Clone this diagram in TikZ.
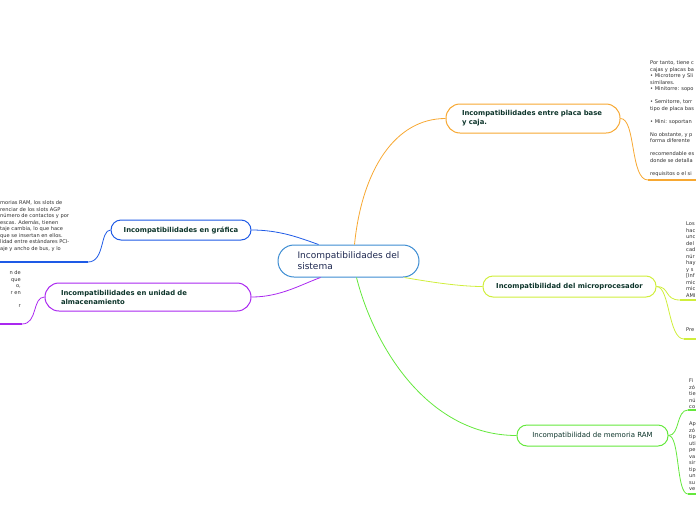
\documentclass[tikz,border=0pt]{standalone}
\usepackage{fontspec}
\setmainfont{DejaVu Sans}
\definecolor{hubblue}{RGB}{60,140,210}
\definecolor{hubtext}{RGB}{30,40,80}
\definecolor{labelgreen}{RGB}{12,52,42}
\definecolor{notegray}{RGB}{45,45,45}
\definecolor{caseorange}{RGB}{247,168,50}
\definecolor{cpulime}{RGB}{208,238,60}
\definecolor{ramgreen}{RGB}{100,232,60}
\definecolor{gpublue}{RGB}{30,90,230}
\definecolor{diskpurple}{RGB}{170,40,240}

\begin{document}
\begin{tikzpicture}[x=1pt, y=-1pt,
    topic/.style={draw, fill=white, line width=1pt, text=labelgreen, font=\fontsize{6.85}{9}\selectfont\bfseries},
    note/.style={inner sep=0pt, align=left, text=notegray, font=\fontsize{5.1}{6.5}\selectfont},
    link/.style={line width=0.8pt},
    bar/.style={line width=1.6pt}
]
\useasboundingbox (0,0) rectangle (696,520);

% centre and branches
\node[draw=hubblue, fill=white, line width=1pt, rounded corners=16pt, minimum width=141pt, minimum height=32pt,
      align=left, text=hubtext, font=\fontsize{9}{11}\selectfont] (centre) at (348.5,261) {Incompatibilidades del\\sistema};
\node[topic, draw=caseorange, rounded corners=14pt, minimum width=174pt, minimum height=29pt,
      text width=142pt, align=left, inner xsep=16pt] (caja) at (533,118.5) {Incompatibilidades entre placa base\\y caja.};
\node[topic, draw=cpulime, rounded corners=10pt, minimum width=173pt, minimum height=21pt] (micro) at (569.5,286.5) {Incompatibilidad del microprocesador};
\node[topic, draw=ramgreen, rounded corners=10pt, minimum width=151pt, minimum height=21pt,
      font=\fontsize{7}{9}\selectfont] (ram) at (592.5,435.5) {Incompatibilidad de memoria RAM};
\node[topic, draw=gpublue, rounded corners=10pt, minimum width=140pt, minimum height=20pt] (grafica) at (181,230) {Incompatibilidades en gráfica};
\node[topic, draw=diskpurple, rounded corners=14pt, minimum width=206pt, minimum height=28pt,
      text width=174pt, align=left, inner xsep=16pt] (disco) at (148,297) {Incompatibilidades en unidad de\\almacenamiento};

% notes (cut by the page edge)
\node[note, anchor=north west] (cajatxt) at (650,60.8) {Por tanto, tiene c\\cajas y placas ba\\• Microtorre y Sli\\similares.\\• Minitorre: sopo\\[6.5pt]• Semitorre, torr\\tipo de placa bas\\[6.5pt]• Mini: soportan\\[6.5pt]No obstante, y p\\forma diferente\\[6.5pt]recomendable es\\donde se detalla\\[6.5pt]requisitos o el si};
\node[note, anchor=north west] (microtxt) at (686,221.8) {Los\\hac\\unc\\del\\cad\\núr\\hay\\y s\\{}[Inf\\mic\\mic\\AMI};
\node[note, anchor=north west] (pretxt) at (686,327.8) {Pre};
\node[note, anchor=north west] (ramtxta) at (689,378.8) {Fi\\zó\\tie\\nú\\co};
\node[note, anchor=north west] (ramtxtb) at (689,421.8) {Ap\\zó\\tip\\uti\\pe\\va\\sir\\tip\\un\\su\\ve};
\node[note, anchor=north west] (graficatxt) at (0,200.8) {morias RAM, los slots de\\renciar de los slots AGP\\número de contactos y por\\escas. Además, tienen\\taje cambia, lo que hace\\que se insertan en ellos.\\lidad entre estándares PCI-\\aje y ancho de bus, y lo};
\node[note, anchor=north east, align=right] (discotxt) at (21,270.8) {n de\\que\\o,\\r en\\[6.5pt]r};

\coordinate (cajaend) at (648,180);
\coordinate (microenda) at (680,300);
\coordinate (microendb) at (684,339);
\coordinate (ramenda) at (688,410);
\coordinate (ramendb) at (688,494);
\coordinate (graficaend) at (88,262);
\coordinate (discoend) at (22,324);

% centre to branches
\draw[link, caseorange] ([xshift=6pt]centre.north) .. controls (362,170) and (395,118.5) .. (caja.west);
\draw[link, cpulime] ([xshift=56pt]centre.south) .. controls (430,282) and (460,286.5) .. (micro.west);
\draw[link, ramgreen] ([xshift=8pt]centre.south) .. controls (375,350) and (430,435.5) .. (ram.west);
\draw[link, gpublue] ([xshift=-30pt]centre.north) .. controls (300,238) and (280,230) .. (grafica.east);
\draw[link, diskpurple] ([xshift=-28pt]centre.south) .. controls (300,285) and (280,297) .. (disco.east);

% branches to notes
\draw[link, caseorange] (caja.east) .. controls (636,118.5) and (630,180) .. (cajaend);
\draw[bar, caseorange] (cajaend) -- (696,180);
\draw[link, cpulime] (micro.east) .. controls (670,286.5) and (664,300) .. (microenda);
\draw[link, cpulime] (micro.east) .. controls (670,286.5) and (668,339) .. (microendb);
\draw[bar, cpulime] (microenda) -- (696,300);
\draw[bar, cpulime] (microendb) -- (696,339);
\draw[link, ramgreen] (ram.east) .. controls (680,435.5) and (676,410) .. (ramenda);
\draw[link, ramgreen] (ram.east) .. controls (680,435.5) and (676,494) .. (ramendb);
\draw[bar, ramgreen] (ramenda) -- (696,410);
\draw[bar, ramgreen] (ramendb) -- (696,494);
\draw[link, gpublue] (grafica.west) .. controls (100,230) and (105,262) .. (graficaend);
\draw[bar, gpublue] (graficaend) -- (0,262);
\draw[link, diskpurple] (disco.west) .. controls (32,297) and (38,324) .. (discoend);
\draw[bar, diskpurple] (discoend) -- (0,324);
\end{tikzpicture}
\end{document}
